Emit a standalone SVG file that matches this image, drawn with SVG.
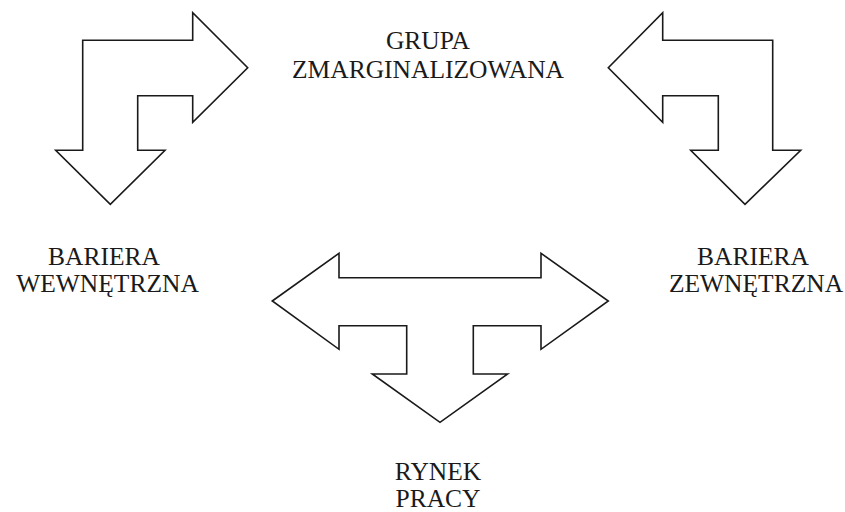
<svg xmlns="http://www.w3.org/2000/svg" width="845" height="512" viewBox="0 0 845 512">
<style>
.arrow{fill:#fff;stroke:#1a1a1a;stroke-width:1.6;stroke-linejoin:miter}
.lbl{font-family:"Liberation Serif","Times New Roman",serif;font-size:25.5px;fill:#1a1a1a;text-anchor:middle}
</style>
<rect width="845" height="512" fill="#fff"/>
<g id="connectors">
<path id="arrow-left" class="arrow" d="M82.7,40.3 L192.7,40.3 L192.7,12.7 L247.7,67.7 L192.7,122.3 L192.7,95.7 L137.7,95.7 L137.7,150.3 L165,150.3 L110.3,204.3 L55.7,150.3 L82.7,150.3 Z"/>
<path id="arrow-right" class="arrow" d="M772.7,40.3 L662.7,40.3 L662.7,12.7 L608.3,67.7 L662.7,122.3 L662.7,95.7 L718.3,95.7 L718.3,150.3 L690.7,150.3 L745,204.3 L800.7,150.3 L772.7,150.3 Z"/>
<path id="arrow-bottom" class="arrow" d="M272.3,301 L339,253.3 L339,277.7 L541,277.7 L541,253.3 L608.3,301 L541,349.3 L541,325.7 L473.3,325.7 L473.3,374 L507.7,374 L440,422.3 L372.3,374 L406.7,374 L406.7,325.7 L339,325.7 L339,349.3 Z"/>
</g>
<g id="grupa">
<text class="lbl" x="428" y="48.5">GRUPA</text>
<text class="lbl" x="428" y="77.5">ZMARGINALIZOWANA</text>
</g>
<g id="bariera-wewnetrzna">
<text class="lbl" x="104" y="264.7">BARIERA</text>
<text class="lbl" x="107.5" y="291.7">WEWNĘTRZNA</text>
</g>
<g id="bariera-zewnetrzna">
<text class="lbl" x="753" y="264.7">BARIERA</text>
<text class="lbl" x="756" y="291.7">ZEWNĘTRZNA</text>
</g>
<g id="rynek-pracy">
<text class="lbl" x="438" y="480">RYNEK</text>
<text class="lbl" x="438" y="507">PRACY</text>
</g>
</svg>
